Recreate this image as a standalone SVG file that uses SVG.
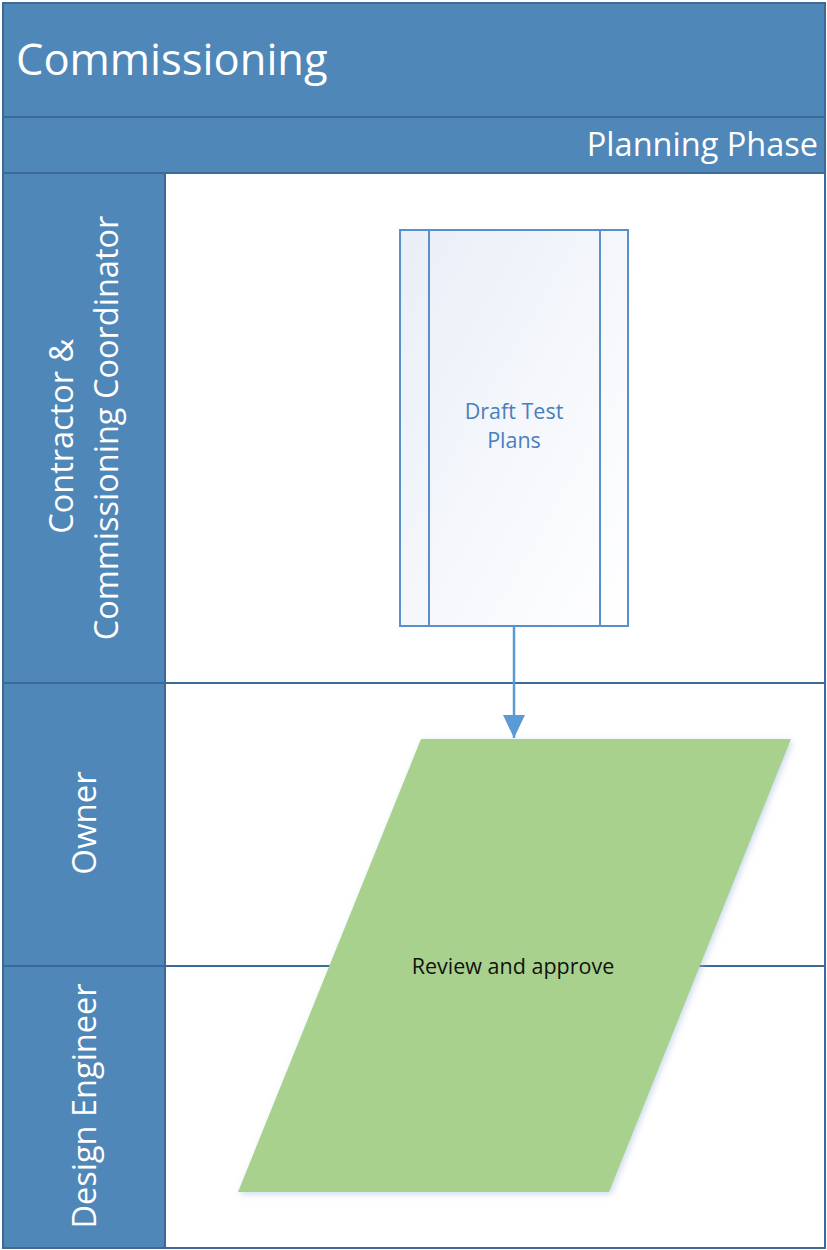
<svg xmlns="http://www.w3.org/2000/svg" width="827" height="1250" viewBox="0 0 827 1250">
  <style>
    .band { fill: #4f87b9; stroke: #3c6a96; stroke-width: 2; }
    .hdr { font-family: "Open Sans", "Noto Sans", "DejaVu Sans", sans-serif; fill: #ffffff; }
    .lane { fill: #ffffff; stroke: #3c6a96; stroke-width: 2; }
    .sep { stroke: #3c6a96; stroke-width: 2; }
    .proc { fill: url(#procFill); stroke: #5b8fcb; stroke-width: 2; }
    .procLabel { font-family: "Open Sans", "Noto Sans", sans-serif; font-size: 21.5px; fill: #4a7fbf; text-anchor: middle; }
    .dataLabel { font-family: "Open Sans", "Noto Sans", sans-serif; font-size: 21.5px; fill: #111111; text-anchor: middle; }
    .conn { stroke: #5b9bd5; stroke-width: 2.5; fill: none; }
  </style>
  <defs>
    <linearGradient id="procFill" x1="0" y1="0" x2="1" y2="1">
      <stop offset="0" stop-color="#e9eef7"/>
      <stop offset="1" stop-color="#ffffff"/>
    </linearGradient>
    <marker id="arrowHead" viewBox="0 0 23 22" refX="23" refY="11" markerWidth="23" markerHeight="22" markerUnits="userSpaceOnUse" orient="auto">
      <path d="M0,0 L23,11 L0,22 Z" fill="#5b9bd5"/>
    </marker>
    <filter id="softShadow" x="-10%" y="-10%" width="120%" height="120%">
      <feDropShadow dx="2" dy="2" stdDeviation="3" flood-color="#9ab6dc" flood-opacity="0.5"/>
    </filter>
  </defs>

  <!-- pool frame -->
  <g id="pool">
    <rect class="lane" x="3" y="3" width="822" height="1245"/>
    <rect class="band" x="3" y="3" width="822" height="114"/>
    <text class="hdr" x="16" y="75" font-size="43.5">Commissioning</text>
    <rect class="band" x="3" y="117" width="822" height="56"/>
    <text class="hdr" x="818" y="156" font-size="32.5" text-anchor="end">Planning Phase</text>
  </g>

  <!-- swimlanes -->
  <g id="lane-contractor">
    <rect class="band" x="3" y="173" width="162" height="510"/>
    <text class="hdr" font-size="32.5" text-anchor="middle" transform="translate(85 428) rotate(-90)">
      <tspan x="-4" y="-12">Contractor &amp;</tspan>
      <tspan x="0" y="33">Commissioning Coordinator</tspan>
    </text>
  </g>
  <g id="lane-owner">
    <rect class="band" x="3" y="683" width="162" height="283"/>
    <text class="hdr" font-size="33" text-anchor="middle" transform="translate(85 823) rotate(-90)" y="11">Owner</text>
  </g>
  <g id="lane-design">
    <rect class="band" x="3" y="966" width="162" height="282"/>
    <text class="hdr" font-size="32.5" text-anchor="middle" transform="translate(85 1106) rotate(-90)" y="11">Design Engineer</text>
  </g>
  <g id="lane-separators">
    <line class="sep" x1="165" y1="683" x2="825" y2="683"/>
    <line class="sep" x1="165" y1="966" x2="825" y2="966"/>
  </g>

  <!-- connectors -->
  <g id="connectors">
    <line class="conn" x1="514" y1="627" x2="514" y2="738" marker-end="url(#arrowHead)"/>
  </g>

  <!-- nodes -->
  <g id="draft-test-plans">
    <rect class="proc" x="400" y="230" width="228" height="396"/>
    <line x1="429" y1="230" x2="429" y2="626" stroke="#5b8fcb" stroke-width="2"/>
    <line x1="600" y1="230" x2="600" y2="626" stroke="#5b8fcb" stroke-width="2"/>
    <text class="procLabel" x="514" y="419">Draft Test</text>
    <text class="procLabel" x="514" y="448">Plans</text>
  </g>
  <g id="review-and-approve">
    <polygon points="421,739 791,739 609,1192 238,1192" fill="#a9d18e" filter="url(#softShadow)"/>
    <text class="dataLabel" x="513" y="974">Review and approve</text>
  </g>
</svg>
